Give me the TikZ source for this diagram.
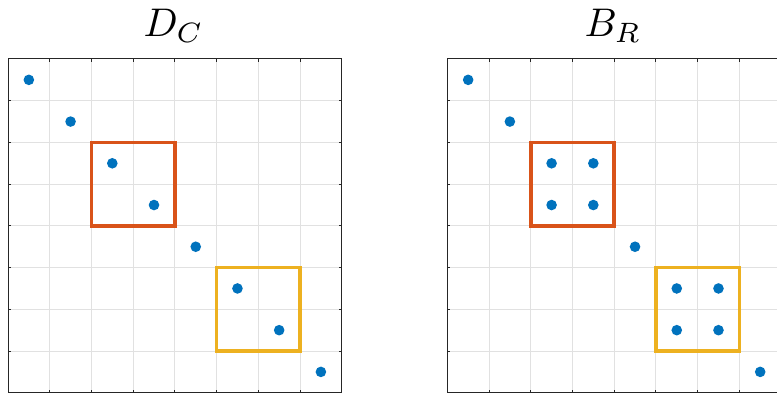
\documentclass[tikz,border=0pt]{standalone}
\definecolor{dotblue}{RGB}{0,114,189}
\definecolor{blockred}{RGB}{217,83,25}
\definecolor{blockyellow}{RGB}{237,177,32}
\definecolor{gridgray}{RGB}{225,225,225}
\definecolor{axisgray}{RGB}{38,38,38}
\tikzset{
  gridline/.style={gridgray,line width=1pt},
  axisline/.style={axisgray,line width=1pt},
  blockbox/.style={line width=3.6pt,line join=miter},
  dot/.style={fill=dotblue,draw=none},
  plottitle/.style={anchor=base,scale=4,inner sep=0pt},
}
% one 8x8 axes with ticks on all sides
\newcommand{\matgrid}{%
  \foreach \k in {1,...,7} {
    \draw[gridline] (\k,0) -- (\k,8);
    \draw[gridline] (0,\k) -- (8,\k);
  }
  \draw[axisline] (0,0) rectangle (8,8);
  \foreach \k in {1,...,7} {
    \draw[axisline] (\k,0) -- (\k,0.075);
    \draw[axisline] (\k,8) -- (\k,7.925);
    \draw[axisline] (0,\k) -- (0.075,\k);
    \draw[axisline] (8,\k) -- (7.925,\k);
  }
}
\begin{document}
\begin{tikzpicture}[x=1pt,y=-1pt]
  \clip (0,0) rectangle (777,393);
  \fill[white] (0,0) rectangle (777,393);

  % D_C
  \begin{scope}[shift={(8,59)},x=41.72pt,y=-41.72pt]
    \matgrid
    \foreach \k in {0,...,7}
      \fill[dot] (\k+0.5,\k+0.5) circle (5.3pt);
    \draw[blockbox,blockred] (2,2) rectangle (4,4);
    \draw[blockbox,blockyellow] (5,5) rectangle (7,7);
    \node[plottitle] (titleD) at (3.97,-0.53) {$D_C$};
  \end{scope}

  % B_R
  \begin{scope}[shift={(447.3,59)},x=41.72pt,y=-41.72pt]
    \matgrid
    \foreach \k in {0,1,4,7}
      \fill[dot] (\k+0.5,\k+0.5) circle (5.3pt);
    \foreach \i/\j in {2/2,2/3,3/2,3/3,5/5,5/6,6/5,6/6}
      \fill[dot] (\i+0.5,\j+0.5) circle (5.3pt);
    \draw[blockbox,blockred] (2,2) rectangle (4,4);
    \draw[blockbox,blockyellow] (5,5) rectangle (7,7);
    \node[plottitle] (titleB) at (3.97,-0.53) {$B_R$};
  \end{scope}
\end{tikzpicture}
\end{document}
